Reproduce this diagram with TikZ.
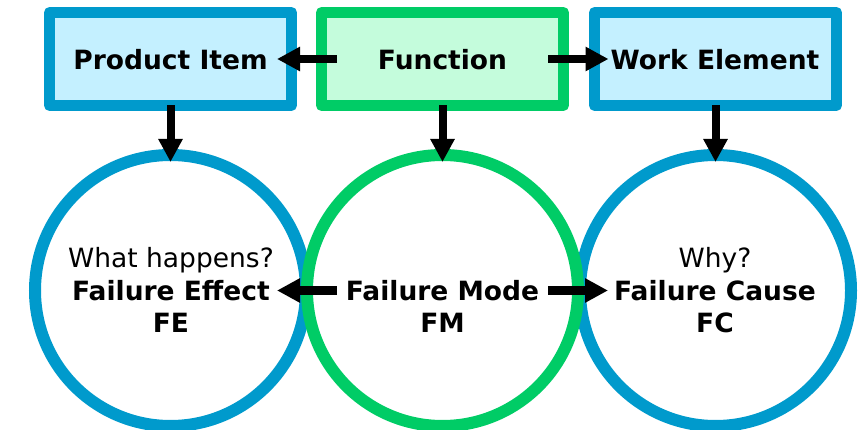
\documentclass[tikz,border=0pt]{standalone}
\usepackage{fontspec}
\setmainfont{DejaVu Sans}
\usetikzlibrary{arrows.meta}
\definecolor{bblue}{RGB}{0,154,204}
\definecolor{fblue}{RGB}{196,240,255}
\definecolor{bgreen}{RGB}{0,204,102}
\definecolor{fgreen}{RGB}{196,252,220}
\tikzset{
  x=1pt, y=1pt,
  boxnode/.style={draw, line width=11pt, line join=round, minimum width=242pt, minimum height=93pt, outer sep=0pt, inner sep=0pt},
  bluebox/.style={boxnode, draw=bblue, fill=fblue},
  greenbox/.style={boxnode, draw=bgreen, fill=fgreen},
  ring/.style={circle, draw, line width=12pt, minimum size=271pt, outer sep=0pt, inner sep=0pt},
  bluering/.style={ring, draw=bblue},
  greenring/.style={ring, draw=bgreen},
  arr/.style={line width=8pt, -{Triangle[length=23pt,width=23pt]}},
  bold/.style={font=\fontsize{26.5}{32}\selectfont\bfseries, anchor=base, inner sep=0pt},
  plain/.style={font=\fontsize{26.5}{32}\selectfont, anchor=base, inner sep=0pt},
}
\begin{document}
\begin{tikzpicture}
\useasboundingbox (0,0) rectangle (867,-430);
% boxes
\node[bluebox] (pi) at (170.5,-59) {};
\node[greenbox] (fn) at (442.5,-59) {};
\node[bluebox] (we) at (715.5,-59) {};
% circles
\node[bluering] (fe) at (170.5,-290.5) {};
\node[bluering] (fc) at (715.5,-290.5) {};
\node[greenring] (fm) at (442.5,-290.5) {};
% arrows
\draw[arr] ([xshift=15.5pt]fn.west) -- ([xshift=-14.5pt]pi.east);
\draw[arr] ([xshift=-15.5pt]fn.east) -- ([xshift=14pt]we.west);
\draw[arr] (pi.south) -- ([yshift=-7pt]fe.north);
\draw[arr] (fn.south) -- ([yshift=-7pt]fm.north);
\draw[arr] (we.south) -- ([yshift=-7pt]fc.north);
\draw[arr] ([xshift=-105.5pt]fm.center) -- ([xshift=106.5pt]fe.center);
\draw[arr] ([xshift=105.5pt]fm.center) -- ([xshift=-107.5pt]fc.center);
% texts
\node[bold] (tpi) at (170.5,-70) {Product Item};
\node[bold] (tfn) at (442.5,-70) {Function};
\node[bold] (twe) at (715,-70) {Work Element};
\node[plain] (q1) at (171,-268) {What happens?};
\node[bold] (fe1) at (171,-300) {Failure Effect};
\node[bold] (fe2) at (171,-332) {FE};
\node[bold] (fm1) at (442.5,-300) {Failure Mode};
\node[bold] (fm2) at (442.5,-332) {FM};
\node[plain] (q2) at (715,-268) {Why?};
\node[bold] (fc1) at (715,-300) {Failure Cause};
\node[bold] (fc2) at (715,-332) {FC};
\end{tikzpicture}
\end{document}
